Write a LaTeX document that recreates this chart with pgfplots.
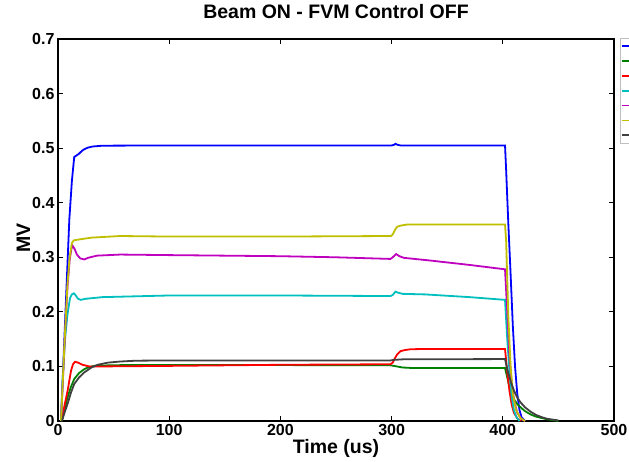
\documentclass[border=0pt]{standalone}
\usepackage{fontspec}
\setmainfont{Liberation Sans}
\usepackage{pgfplots}
\pgfplotsset{compat=1.18}

\definecolor{mblue}{rgb}{0,0,1}
\definecolor{mgreen}{rgb}{0,0.5,0}
\definecolor{mred}{rgb}{1,0,0}
\definecolor{mcyan}{rgb}{0,0.75,0.75}
\definecolor{mmag}{rgb}{0.75,0,0.75}
\definecolor{myel}{rgb}{0.75,0.75,0}
\definecolor{mgray}{rgb}{0.25,0.25,0.25}

\begin{document}
\begin{tikzpicture}
\begin{axis}[
  scale only axis, width=556pt, height=382pt,
  xmin=0, xmax=500, ymin=0, ymax=0.7,
  xtick={0,100,200,300,400,500},
  ytick={0,0.1,0.2,0.3,0.4,0.5,0.6,0.7},
  tick align=inside, major tick length=5pt,
  axis line style={line width=1.1pt},
  every tick/.style={black, line width=0.9pt},
  /pgf/number format/assume math mode=true,
  tick label style={font=\bfseries\fontsize{16}{16}\selectfont},
  title={Beam ON - FVM Control OFF},
  title style={font=\bfseries\fontsize{19.5}{19.5}\selectfont, at={(axis description cs:0.5,1)}, anchor=base, yshift=15pt},
  xlabel={Time (us)},
  xlabel style={font=\bfseries\fontsize{19.5}{19.5}\selectfont, at={(axis description cs:0.5,0)}, anchor=base, yshift=-32pt},
  ylabel={MV},
  ylabel style={font=\bfseries\fontsize{19.5}{19.5}\selectfont, at={(axis description cs:-0.05,0.48)}, anchor=base},
  legend image code/.code={\draw[#1, line width=1.8pt] (0pt,0pt) -- (18pt,0pt);},
  legend style={at={(axis description cs:1,1)}, anchor=north west, xshift=6pt, yshift=1pt,
    draw=gray!50, line width=0.6pt, inner xsep=1pt, inner ysep=1pt, row sep=1.7pt,
    font=\fontsize{10}{11}\selectfont, nodes={inner sep=2pt}},
  legend cell align=left,
  every axis plot/.append style={line width=1.8pt},
]
% blue
\addplot[mblue] coordinates {(2.7,0) (5.7,0.149) (10.2,0.37) (12.5,0.44) (14.6,0.484) (17,0.487) (19,0.49) (21.5,0.495) (23.6,0.498) (27,0.501) (31,0.503) (40,0.5045) (100,0.505) (200,0.505) (300,0.505) (302,0.506) (303.5,0.508) (305.5,0.506) (308,0.505) (350,0.505) (402,0.505) (403,0.46) (405,0.36) (407,0.27) (409,0.175) (411,0.1) (413,0.05) (415,0.02) (417,0.006) (420,0)};
\addlegendentry{\strut\phantom{Cavity 1}}
% green
\addplot[mgreen] coordinates {(3.5,0) (6,0.022) (8.7,0.044) (11.5,0.062) (14.6,0.077) (19,0.088) (23.6,0.095) (28,0.099) (32.6,0.101) (45,0.102) (60,0.1025) (200,0.1025) (299,0.102) (302,0.101) (306,0.0995) (310,0.098) (320,0.097) (402,0.097) (404,0.08) (406,0.062) (408,0.05) (410,0.04) (413,0.031) (416,0.025) (420,0.018) (425,0.012) (430,0.008) (440,0.003) (450,0)};
\addlegendentry{\strut\phantom{Cavity 1}}
% red
\addplot[mred] coordinates {(3.3,0) (6,0.03) (8.7,0.056) (11.7,0.092) (13.5,0.104) (15.3,0.1085) (18,0.107) (22,0.103) (28,0.1) (40,0.1) (100,0.101) (200,0.103) (299,0.104) (301,0.107) (303,0.115) (305,0.122) (308,0.128) (312,0.13) (317,0.1315) (330,0.132) (402,0.132) (404,0.09) (406,0.055) (408,0.03) (410,0.015) (413,0.005) (416,0)};
\addlegendentry{\strut\phantom{Cavity 1}}
% cyan
\addplot[mcyan] coordinates {(2.7,0) (4,0.07) (6.3,0.149) (8.5,0.195) (10.8,0.225) (12.5,0.232) (14.3,0.234) (16,0.23) (18,0.224) (20.5,0.222) (25,0.224) (40,0.227) (100,0.23) (200,0.23) (299,0.229) (301,0.231) (303.5,0.237) (306,0.235) (310,0.233) (330,0.232) (370,0.227) (402,0.222) (404,0.15) (406,0.09) (408,0.045) (410,0.02) (412,0.008) (415,0)};
\addlegendentry{\strut\phantom{Cavity 1}}
% magenta
\addplot[mmag] coordinates {(2.7,0) (6,0.145) (8.5,0.245) (10.5,0.295) (12,0.315) (13.2,0.321) (15,0.315) (17,0.305) (20,0.298) (23.6,0.296) (27,0.299) (35,0.303) (56,0.305) (100,0.304) (200,0.302) (250,0.3) (299,0.297) (301,0.3) (304,0.306) (307,0.302) (311,0.299) (335,0.294) (370,0.286) (402,0.278) (404,0.2) (406,0.12) (408,0.07) (410,0.04) (413,0.015) (417,0.003) (420,0)};
\addlegendentry{\strut\phantom{Cavity 1}}
% yellow
\addplot[myel] coordinates {(2.7,0) (6,0.149) (8.5,0.25) (10.5,0.3) (12.5,0.326) (14.1,0.331) (17,0.332) (20,0.333) (30,0.336) (56,0.339) (100,0.338) (200,0.338) (299.5,0.339) (301,0.342) (303,0.35) (305,0.356) (308,0.358) (314,0.36) (402,0.36) (403,0.33) (405,0.19) (407,0.1) (409,0.05) (412,0.02) (416,0.005) (420,0)};
\addlegendentry{\strut\phantom{Cavity 1}}
% gray
\addplot[mgray] coordinates {(3.5,0) (6,0.016) (8.7,0.032) (11.5,0.051) (14.6,0.068) (19,0.08) (23.6,0.089) (30,0.098) (35.6,0.103) (45,0.107) (56,0.109) (70,0.1105) (100,0.111) (299,0.111) (302,0.112) (310,0.113) (402,0.1135) (404,0.095) (406,0.08) (408,0.067) (410,0.056) (413,0.043) (416,0.034) (420,0.025) (425,0.017) (430,0.011) (435,0.007) (440,0.004) (450,0.001)};
\addlegendentry{\strut\phantom{Cavity 1}}
\end{axis}
\pgfresetboundingbox
\useasboundingbox (-58pt,-40pt) rectangle (571pt,421pt);
\end{tikzpicture}
\end{document}
